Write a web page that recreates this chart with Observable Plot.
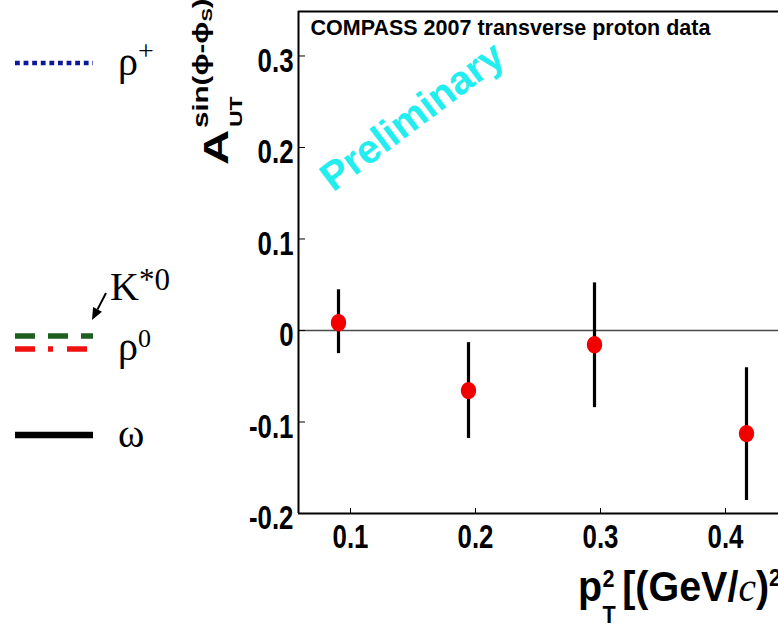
<!DOCTYPE html>
<html><head><meta charset="utf-8">
<script src="https://cdn.jsdelivr.net/npm/d3@7"></script>
<script src="https://cdn.jsdelivr.net/npm/@observablehq/plot@0.6"></script>
<style>
html,body{margin:0;padding:0;background:#fff;}
#chart{width:778px;height:626px;overflow:hidden;}
</style></head><body><div id="chart"></div>
<script>
// ---- data ----
const pt2 = [0.0904, 0.1944, 0.2952, 0.4168];
const asym = [0.0085, -0.0657, -0.0155, -0.1127];
const errLow = [-0.0253, -0.118, -0.0843, -0.1858];
const errHigh = [0.0445, -0.0133, 0.052, -0.0406];
const xTicks = [0.1, 0.2, 0.3, 0.4];
const yTicks = [-0.2, -0.1, 0, 0.1, 0.2, 0.3];
const xDomain = [0.0584, 0.4424];
const yDomain = [-0.2, 0.3486];
const titleText = "COMPASS 2007 transverse proton data";
const watermark = "Preliminary";
const legendNames = ["ρ", "K", "ρ", "ω"];
const legendSups = ["+", "*0", "0", ""];

const points = pt2.map((x, i) => ({x, y: asym[i], lo: errLow[i], hi: errHigh[i]}));

const sans = "'Liberation Sans', Arial, Helvetica, sans-serif";
const serif = "'Liberation Serif', 'Times New Roman', serif";

// slightly tall ellipse marker like the reference
const tallEllipse = {
  draw(context, size) {
    const r = Math.sqrt(size / Math.PI);
    const rx = r * 0.92, ry = r * 1.05, k = 0.5523;
    context.moveTo(rx, 0);
    context.bezierCurveTo(rx, k * ry, k * rx, ry, 0, ry);
    context.bezierCurveTo(-k * rx, ry, -rx, k * ry, -rx, 0);
    context.bezierCurveTo(-rx, -k * ry, -k * rx, -ry, 0, -ry);
    context.bezierCurveTo(k * rx, -ry, rx, -k * ry, rx, 0);
    context.closePath();
  }
};

const chart = Plot.plot({
  width: 778, height: 626,
  marginLeft: 298, marginRight: 0, marginTop: 11, marginBottom: 113,
  style: {fontFamily: sans, fontSize: "34px", fontWeight: "bold", background: "white", color: "black", overflow: "hidden"},
  x: {domain: xDomain},
  y: {domain: yDomain},
  marks: [
    Plot.ruleY([0], {stroke: "#4a4a4a", strokeWidth: 1.5}),
    Plot.ruleX([xDomain[0]], {stroke: "black", strokeWidth: 2}),
    Plot.ruleY([yDomain[0]], {stroke: "black", strokeWidth: 2}),
    Plot.ruleY([yDomain[1]], {stroke: "black", strokeWidth: 2}),
    Plot.axisY({ticks: yTicks, tickSize: -7, tickFormat: () => "", label: null}),
    Plot.axisY({ticks: yTicks, tickSize: 0, tickPadding: 5, dy: 5, tickFormat: d => String(d), label: null, fontSize: 34}),
    Plot.axisX({ticks: xTicks, tickSize: -5, tickFormat: () => "", label: null}),
    Plot.axisX({ticks: xTicks, tickSize: 0, tickPadding: 10, tickFormat: d => String(d), label: null, fontSize: 34}),
    Plot.text([titleText], {frameAnchor: "top-left", text: d => d, dx: 12, dy: 8, textAnchor: "start", lineAnchor: "top", fontSize: 21.5, fontWeight: "bold"}),
    Plot.ruleX(points, {x: "x", y1: "lo", y2: "hi", stroke: "black", strokeWidth: 3.2}),
    Plot.dot(points, {x: "x", y: "y", r: 8.3, symbol: tallEllipse, fill: "#f20000", stroke: "none"})
  ]
});
document.getElementById("chart").appendChild(chart);

const svg = d3.select(chart);

// condense tick labels like the reference
function squish(sel, s) {
  sel.each(function() {
    const t = this.getAttribute("transform");
    const x = this.getAttribute("x");
    if (t) this.setAttribute("transform", t + ` scale(${s},1)`);
    else {
      this.setAttribute("transform", `translate(${x || 0},0) scale(${s},1)`);
      this.setAttribute("x", 0);
    }
  });
}
squish(svg.selectAll("g[aria-label='y-axis tick label'] text, g[aria-label='x-axis tick label'] text"), 0.76);

// watermark
svg.append("text")
  .attr("transform", "translate(420,127) rotate(-37)")
  .attr("text-anchor", "middle")
  .attr("font-family", sans).attr("font-weight", "bold").attr("font-size", 40)
  .attr("fill", "#22eef0").text(watermark);

// y-axis title
const yt = svg.append("g").attr("font-family", sans).attr("font-weight", "bold").attr("fill", "black").attr("text-anchor", "start");
yt.append("text").attr("transform", "translate(228,165) rotate(-90) scale(1,0.72)").attr("font-size", 49).text("A");
yt.append("text").attr("transform", "translate(242,127) rotate(-90) scale(1,0.75)").attr("font-size", 23).text("UT");
const sup = yt.append("text").attr("transform", "translate(208,128) rotate(-90) scale(1,0.75)").attr("font-size", 29.5);
sup.append("tspan").text("sin(ϕ-ϕ");
sup.append("tspan").attr("font-size", 20).attr("dy", 5).text("S");
sup.append("tspan").attr("dy", -5).text(")");

// x-axis title
const xt = svg.append("g").attr("transform", "translate(578,601) scale(0.94,1)")
  .attr("font-family", sans).attr("font-weight", "bold").attr("fill", "black").attr("text-anchor", "start");
xt.append("text").attr("font-size", 42).text("p");
xt.append("text").attr("x", 26).attr("y", -14).attr("font-size", 23).text("2");
xt.append("text").attr("x", 26).attr("y", 22).attr("font-size", 23).text("T");
const xm = xt.append("text").attr("x", 47).attr("font-size", 42);
xm.append("tspan").text("[(GeV/");
xm.append("tspan").attr("font-family", serif).attr("font-style", "italic").attr("font-weight", "normal").text("c");
xm.append("tspan").text(")");
xm.append("tspan").attr("font-size", 23).attr("dy", -15).text("2");
xm.append("tspan").attr("dy", 15).text("]");

// legend at left
const lg = svg.append("g").attr("text-anchor", "start").attr("font-weight", "normal");
lg.append("line").attr("x1", 15).attr("x2", 93).attr("y1", 63).attr("y2", 63)
  .attr("stroke", "#0c1898").attr("stroke-width", 4.7).attr("stroke-dasharray", "4.8,3.8");
lg.append("line").attr("x1", 15).attr("x2", 93).attr("y1", 336).attr("y2", 336)
  .attr("stroke", "#1e5e1e").attr("stroke-width", 5.5).attr("stroke-dasharray", "20,13");
lg.append("line").attr("x1", 15).attr("x2", 89).attr("y1", 349).attr("y2", 349)
  .attr("stroke", "#f01010").attr("stroke-width", 5.5).attr("stroke-dasharray", "20,13,5,14");
lg.append("line").attr("x1", 15).attr("x2", 93).attr("y1", 435).attr("y2", 435)
  .attr("stroke", "black").attr("stroke-width", 6.5);

const labelPos = [[118, 75, -15, 28], [110, 300, -10, 31], [118, 360, -13, 26], [118, 447, 0, 26]];
labelPos.forEach(([x, y, dy, fs], i) => {
  const t = lg.append("text").attr("x", x).attr("y", y)
    .attr("font-family", serif).attr("font-weight", "normal").attr("font-size", 40).attr("fill", "black");
  t.append("tspan").text(legendNames[i]);
  if (legendSups[i]) t.append("tspan").attr("font-size", fs).attr("dy", dy).text(legendSups[i]);
});

// arrow pointing from K*0 to the dashed line
const a0 = [106, 293], a1 = [92, 320];
const len = Math.hypot(a1[0] - a0[0], a1[1] - a0[1]);
const u = [(a1[0] - a0[0]) / len, (a1[1] - a0[1]) / len];
const p = [-u[1], u[0]];
const hb = [a1[0] - 12 * u[0], a1[1] - 12 * u[1]];
lg.append("line").attr("x1", a0[0]).attr("y1", a0[1]).attr("x2", hb[0]).attr("y2", hb[1])
  .attr("stroke", "black").attr("stroke-width", 2);
lg.append("polygon").attr("points",
  [a1, [hb[0] + 5 * p[0], hb[1] + 5 * p[1]], [hb[0] - 5 * p[0], hb[1] - 5 * p[1]]].map(d => d.join(",")).join(" "))
  .attr("fill", "black");
</script>
</body></html>
